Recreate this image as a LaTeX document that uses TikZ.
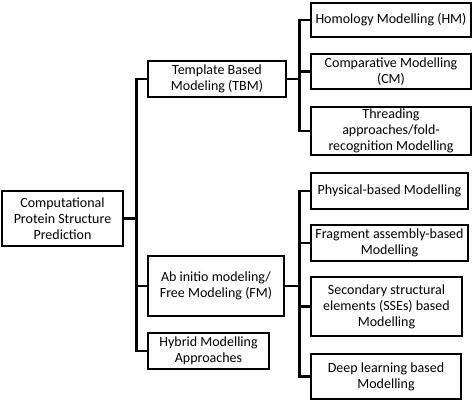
\documentclass[tikz,border=0pt]{standalone}
\usepackage{fontspec}
\setmainfont{Carlito}
\usepackage{tikz}

\begin{document}
\begin{tikzpicture}[x=1pt, y=-1pt, every node/.style={transform shape}]
    % Styles
    \tikzstyle{box} = [rectangle, draw=black, line width=2.4pt, inner sep=1pt, align=center, font=\fontsize{14}{16}\selectfont, fill=white]
    \tikzstyle{link} = [line width=2.6pt, black]

    \useasboundingbox (0,0) rectangle (474,402);

    % Nodes - levels from left to right
    \node[box, minimum width=121pt, minimum height=55pt] (root) at (62.5, 218.5) {Computational\\Protein Structure\\Prediction};
    \node[box, minimum width=138pt, minimum height=36pt] (tbm) at (217, 79) {Template Based\\Modeling (TBM)};
    \node[box, minimum width=136pt, minimum height=60pt] (fm) at (216, 286) {Ab initio modeling/\\Free Modeling (FM)};
    \node[box, minimum width=121pt, minimum height=36pt] (hybrid) at (208.5, 351) {Hybrid Modelling\\Approaches};

    \node[box, minimum width=160pt, minimum height=34pt] (hm) at (391, 20) {Homology Modelling (HM)};
    \node[box, minimum width=160pt, minimum height=35pt] (cm) at (391, 71.5) {Comparative Modelling\\(CM)};
    \node[box, minimum width=160pt, minimum height=48pt] (thread) at (391, 131) {Threading\\approaches/fold-\\recognition Modelling};

    \node[box, minimum width=157pt, minimum height=36pt] (phys) at (389.5, 191) {Physical-based Modelling};
    \node[box, minimum width=157pt, minimum height=36pt] (frag) at (389.5, 243) {Fragment assembly-based\\Modelling};
    \node[box, minimum width=151pt, minimum height=59pt] (sse) at (386.5, 306.5) {Secondary structural\\elements (SSEs) based\\Modelling};
    \node[box, minimum width=150pt, minimum height=45pt] (deep) at (386, 376.5) {Deep learning based\\Modelling};

    % Connectors
    \foreach \child in {tbm, fm, hybrid}
        \draw[link] (root.east) -- ++(12,0) |- (\child.west);
    \foreach \child in {hm, cm, thread}
        \draw[link] (tbm.east) -- ++(12,0) |- (\child.west);
    \foreach \child in {phys, frag, sse, deep}
        \draw[link] (fm.east) -- ++(14,0) |- (\child.west);
\end{tikzpicture}
\end{document}
